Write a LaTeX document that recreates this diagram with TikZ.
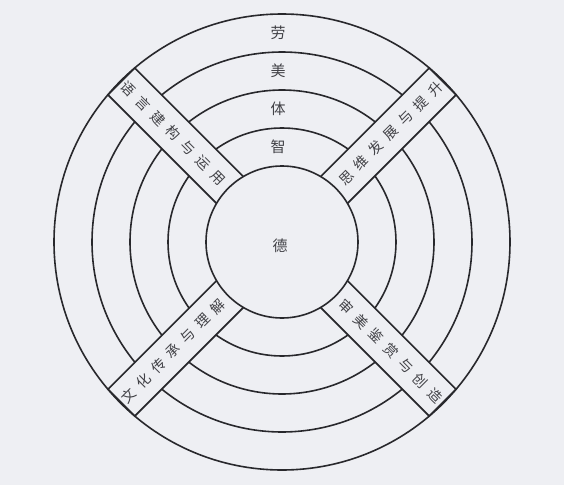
\documentclass[tikz,border=0pt]{standalone}
\usepackage{fontspec}
\newfontfamily\cjk{Noto Sans CJK SC}
\definecolor{paper}{RGB}{238,239,243}
\definecolor{ink}{RGB}{40,40,44}
\definecolor{letter}{RGB}{65,65,70}
\tikzset{
  ringline/.style={ink, line width=1.6pt},
  ringlabel/.style={inner sep=0pt, text=letter, font=\cjk\fontsize{15}{15}\selectfont},
  bandlabel/.style={inner sep=0pt, text=letter, font=\cjk\fontsize{14}{14}\selectfont},
}
\begin{document}
\begin{tikzpicture}[x=1pt,y=1pt]
	\fill [paper] (-282,-243) rectangle (282,242);
	\useasboundingbox (-282,-243) rectangle (282,242);
	% whole rings
	\draw [ringline] (0,0) circle (76pt);
	\draw [ringline] (0,0) circle (228pt);
	% rings cut by the bands
	\foreach \r in {114,152,190} {
		\pgfmathsetmacro\gap{asin(19/\r)}
		\foreach \s in {45,135,225,315}
			\draw [ringline] ({\s+\gap}:\r pt) arc [start angle={\s+\gap}, end angle={\s+90-\gap}, radius=\r pt];
	}
	% bands
	\foreach \d in {45,135,225,315}
		\draw [ringline, rotate=\d] (73.6,19) -- (227.2,19) -- (227.2,-19) -- (73.6,-19);
	% ring labels
	\node [ringlabel] (lao) at (-4,209) {劳};
	\node [ringlabel] (mei) at (-4,171) {美};
	\node [ringlabel] (ti) at (-4,133) {体};
	\node [ringlabel] (zhi) at (-4,95) {智};
	\node [ringlabel] (de) at (-2,-4) {德};
	% band labels
	\foreach \ch [count=\i from 0] in {语,言,建,构,与,运,用}
		\node [bandlabel, rotate=-45] (yuyan\i) at (135:{217-21*\i}) {\ch};
	\foreach \ch [count=\i from 0] in {思,维,发,展,与,提,升}
		\node [bandlabel, rotate=45] (siwei\i) at (45:{91+21*\i}) {\ch};
	\foreach \ch [count=\i from 0] in {文,化,传,承,与,理,解}
		\node [bandlabel, rotate=45] (wenhua\i) at (225:{217-21*\i}) {\ch};
	\foreach \ch [count=\i from 0] in {审,美,鉴,赏,与,创,造}
		\node [bandlabel, rotate=-45] (shenmei\i) at (315:{91+21*\i}) {\ch};
\end{tikzpicture}
\end{document}
